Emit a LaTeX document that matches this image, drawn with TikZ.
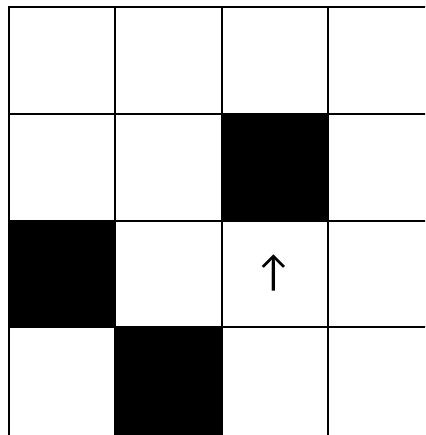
\documentclass[tikz,border=0pt]{standalone}
\usepackage{fontspec}
\newfontfamily\symfont{Lato}
\begin{document}
\begin{tikzpicture}[x=1pt,y=-1pt,
  gridline/.style={line width=2pt,line cap=rect},
  blocked/.style={fill=black}]
\useasboundingbox (0,0) rectangle (425,435);
\begin{scope}
\clip (0,0) rectangle (425,435);
% black cells
\fill[blocked] (221.6,113.8) rectangle (327.9,220.6);
\fill[blocked] (9,220.6) rectangle (115.3,327.4);
\fill[blocked] (115.3,327.4) rectangle (221.6,440);
% vertical lines
\foreach \x in {9,115.3,221.6,327.9}
  \draw[gridline] (\x,7) -- (\x,440);
% horizontal lines
\foreach \y in {7,113.8,220.6,327.4}
  \draw[gridline] (9,\y) -- (430,\y);
\end{scope}
\node[inner sep=0pt] (agent) at (273.7,273) {\fontsize{41}{41}\symfont ↑};
\end{tikzpicture}
\end{document}
